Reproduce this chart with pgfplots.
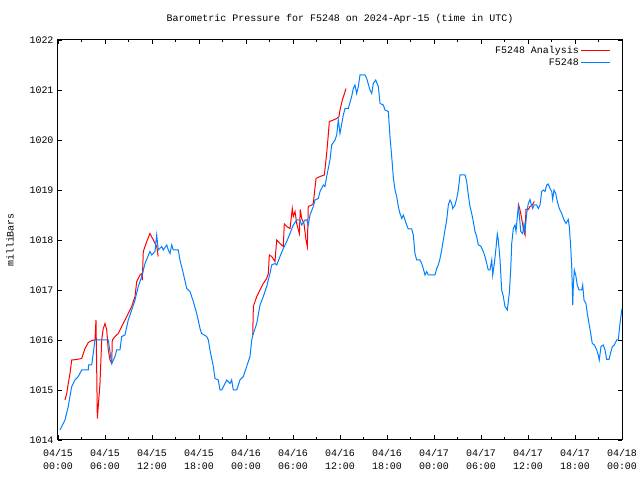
\documentclass[border=0pt]{standalone}
\usepackage{fontspec}
\setmainfont{Liberation Mono}
\usepackage{pgfplots}
\pgfplotsset{compat=1.18}
\definecolor{pred}{RGB}{255,0,0}
\definecolor{pblue}{RGB}{0,128,255}

\pgfplotstableread{
h p
0.26 1014.2
0.89 1014.4
1.31 1014.67
1.75 1015.07
2.17 1015.2
2.59 1015.27
3.03 1015.4
3.87 1015.4
3.9 1015.5
4.30 1015.5
4.72 1016.0
6.42 1016.0
6.86 1015.53
7.28 1015.67
7.49 1015.8
7.91 1015.8
8.13 1016.07
8.55 1016.1
8.97 1016.4
9.41 1016.6
9.83 1016.8
10.25 1017.07
10.69 1017.27
11.11 1017.53
11.74 1017.77
11.96 1017.7
12.38 1017.77
12.6 1018.1
12.8 1017.8
13.24 1017.87
13.44 1017.8
13.88 1017.9
14.08 1017.8
14.30 1017.73
14.52 1017.9
14.72 1017.8
15.36 1017.8
15.57 1017.6
16.0 1017.33
16.43 1017.03
16.85 1016.97
17.27 1016.77
17.71 1016.53
18.13 1016.23
18.34 1016.13
18.98 1016.07
19.19 1016.0
19.40 1015.8
19.83 1015.47
20.04 1015.23
20.46 1015.2
20.68 1015.0
20.90 1015.0
21.32 1015.13
21.54 1015.2
21.96 1015.13
22.17 1015.2
22.38 1015.0
22.81 1015.0
23.23 1015.2
23.66 1015.27
24.09 1015.47
24.51 1015.67
24.73 1016.0
24.94 1016.13
25.37 1016.33
25.79 1016.7
26.21 1016.87
26.64 1017.07
27.06 1017.33
27.28 1017.5
27.70 1017.53
27.92 1017.5
28.34 1017.67
28.76 1017.83
29.20 1017.97
29.62 1018.13
30.04 1018.3
30.47 1018.4
30.89 1018.4
31.11 1018.3
31.53 1018.4
31.75 1018.4
31.95 1018.3
32.17 1018.5
32.59 1018.67
32.81 1018.8
33.23 1018.83
33.45 1018.97
33.87 1019.1
34.08 1019.07
34.30 1019.27
34.72 1019.6
34.94 1019.9
35.36 1020.0
35.58 1020.1
35.78 1020.4
36.0 1020.13
36.42 1020.5
36.64 1020.63
37.06 1020.63
37.49 1020.87
37.7 1021.03
37.91 1021.1
38.13 1020.93
38.34 1021.07
38.55 1021.3
39.19 1021.3
39.41 1021.23
39.83 1021.0
40.05 1020.93
40.25 1021.13
40.56 1021.2
40.89 1021.07
41.11 1020.73
41.53 1020.7
41.74 1020.6
42.17 1020.57
42.38 1020.07
42.60 1019.67
42.80 1019.27
43.02 1019.0
43.24 1018.87
43.44 1018.67
43.66 1018.53
43.88 1018.43
44.08 1018.5
44.51 1018.3
44.72 1018.22
45.15 1018.22
45.36 1018.1
45.57 1017.73
45.79 1017.6
46.21 1017.6
46.43 1017.53
46.63 1017.43
46.85 1017.3
47.07 1017.37
47.27 1017.3
48.13 1017.3
48.34 1017.43
48.55 1017.5
48.77 1017.63
48.98 1017.8
49.19 1018.0
49.40 1018.2
49.62 1018.4
49.83 1018.7
50.04 1018.8
50.26 1018.73
50.39 1018.63
50.68 1018.7
50.90 1018.83
51.10 1019.0
51.32 1019.3
51.96 1019.3
52.17 1019.17
52.38 1018.9
52.60 1018.67
52.81 1018.53
53.02 1018.37
53.23 1018.17
53.45 1018.07
53.66 1017.9
53.96 1017.88
54.29 1017.77
54.51 1017.67
54.73 1017.53
54.93 1017.4
55.15 1017.4
55.37 1017.6
55.49 1017.3
55.70 1017.53
55.91 1017.83
56.08 1018.12
56.21 1018.0
56.43 1017.6
56.64 1017.0
56.85 1016.87
57.06 1016.67
57.36 1016.6
57.61 1016.93
57.79 1017.4
57.92 1017.93
58.13 1018.23
58.34 1018.3
58.47 1018.17
58.56 1018.33
58.76 1018.67
58.89 1018.5
59.07 1018.17
59.32 1018.13
59.49 1018.33
59.62 1018.17
59.83 1018.53
60.04 1018.73
60.26 1018.81
60.38 1018.73
60.6 1018.63
60.77 1018.7
61.11 1018.7
61.32 1018.63
61.53 1018.7
61.75 1018.97
61.96 1019.0
62.17 1018.97
62.39 1019.1
62.59 1019.12
62.81 1019.03
63.03 1018.97
63.15 1018.81
63.32 1019.0
63.54 1018.93
63.74 1018.77
64.0 1018.63
64.30 1018.53
64.60 1018.4
64.85 1018.33
65.14 1018.41
65.27 1018.27
65.45 1017.87
65.58 1017.47
65.71 1016.7
65.79 1017.1
65.91 1017.4
66.09 1017.3
66.29 1017.1
66.51 1017.0
66.86 1017.0
66.98 1017.1
67.15 1016.8
67.40 1016.73
67.57 1016.53
67.79 1016.33
68.0 1016.13
68.21 1015.93
68.47 1015.9
68.77 1015.8
68.98 1015.7
69.1 1015.6
69.32 1015.87
69.61 1015.9
69.83 1015.8
70.05 1015.61
70.34 1015.61
70.56 1015.75
70.77 1015.87
71.02 1015.9
71.33 1016.0
71.53 1016.0
71.74 1016.33
72.0 1016.63
}\blue

\pgfplotstableread{
h p
0.89 1014.8
1.11 1014.93
1.31 1015.13
1.53 1015.33
1.75 1015.6
2.39 1015.61
3.03 1015.63
3.23 1015.73
3.45 1015.83
3.87 1015.95
4.30 1015.99
4.72 1016.0
4.85 1016.4
4.94 1015.43
5.02 1014.43
5.14 1014.67
5.36 1015.13
5.58 1016.0
5.78 1016.23
6.0 1016.33
6.22 1016.2
6.42 1015.8
6.64 1015.6
6.86 1015.53
6.93 1016.0
7.28 1016.07
7.70 1016.13
8.13 1016.27
8.55 1016.4
8.97 1016.53
9.41 1016.67
9.83 1016.87
10.05 1017.17
10.47 1017.3
10.69 1017.33
10.76 1017.2
10.89 1017.77
11.33 1017.97
11.74 1018.13
12.17 1018.0
12.60 1017.87
12.80 1017.67
13.0 nan
24.86 1016.1
24.94 1016.67
25.37 1016.87
25.79 1017.0
26.21 1017.13
26.64 1017.23
26.85 1017.33
26.98 1017.7
27.28 1017.67
27.70 1017.57
27.92 1018.0
28.34 1017.93
28.76 1017.87
28.89 1018.32
29.20 1018.27
29.62 1018.23
29.91 1018.63
30.04 1018.47
30.26 1018.57
30.47 1018.33
30.81 1018.13
30.93 1018.61
31.11 1018.43
31.40 1018.33
31.66 1018.0
31.83 1017.87
31.95 1018.67
32.39 1018.7
32.59 1018.73
32.94 1019.23
33.45 1019.27
34.0 1019.3
34.21 1019.6
34.38 1019.87
34.64 1020.37
35.15 1020.4
35.58 1020.43
35.87 1020.47
36.0 1020.6
36.30 1020.8
36.51 1020.9
36.77 1021.03
37.0 nan
58.76 1018.73
58.98 1018.6
59.19 1018.43
59.40 1018.23
59.62 1018.1
59.74 1018.61
60.04 1018.61
60.26 1018.67
60.55 1018.7
60.81 1018.77
}\red

\begin{document}
\begin{tikzpicture}
\begin{axis}[
  width=564bp, height=400bp, scale only axis,
  xmin=0, xmax=72, ymin=1014, ymax=1022,
  xtick={0,6,...,72}, minor xtick={3,9,...,69},
  ytick={1014,1015,...,1022},
  yticklabels={1014,1015,1016,1017,1018,1019,1020,1021,1022},
  xticklabels={{04/15\\00:00},{04/15\\06:00},{04/15\\12:00},{04/15\\18:00},{04/16\\00:00},{04/16\\06:00},{04/16\\12:00},{04/16\\18:00},{04/17\\00:00},{04/17\\06:00},{04/17\\12:00},{04/17\\18:00},{04/18\\00:00}},
  tick align=inside,
  major tick length=4.5bp, minor tick length=2.5bp,
  tick style={black, line width=0.8bp},
  axis line style={black, line width=1bp},
  font=\fontsize{10}{12}\selectfont,
  xticklabel style={align=center, font=\fontsize{10}{12.7}\selectfont, yshift=-6bp},
  yticklabel style={xshift=-1bp},
  title={Barometric Pressure for F5248 on 2024-Apr-15 (time in UTC)},
  title style={at={(axis description cs:0.5,1)}, anchor=south, yshift=7bp},
  ylabel={milliBars},
  ylabel style={at={(axis description cs:-0.0851,0.5)}, anchor=center},
  unbounded coords=jump,
  legend style={draw=none, fill=none, at={(axis description cs:1,1)}, anchor=north east, xshift=-10bp, yshift=-3bp, row sep=0pt, inner sep=1bp},
  legend plot pos=right,
  legend cell align=right,
  legend image code/.code={\draw[#1] (0bp,0bp) -- (29bp,0bp);},
]
\addplot[pred, line width=1bp] table[x=h,y=p] {\red};
\addlegendentry{F5248 Analysis}
\addplot[pblue, line width=1bp] table[x=h,y=p] {\blue};
\addlegendentry{F5248}
\end{axis}
\pgfresetboundingbox
\useasboundingbox ([shift={(-58bp,-40bp)}]current axis.south west) rectangle ([shift={(18bp,40bp)}]current axis.north east);
\end{tikzpicture}
\end{document}
